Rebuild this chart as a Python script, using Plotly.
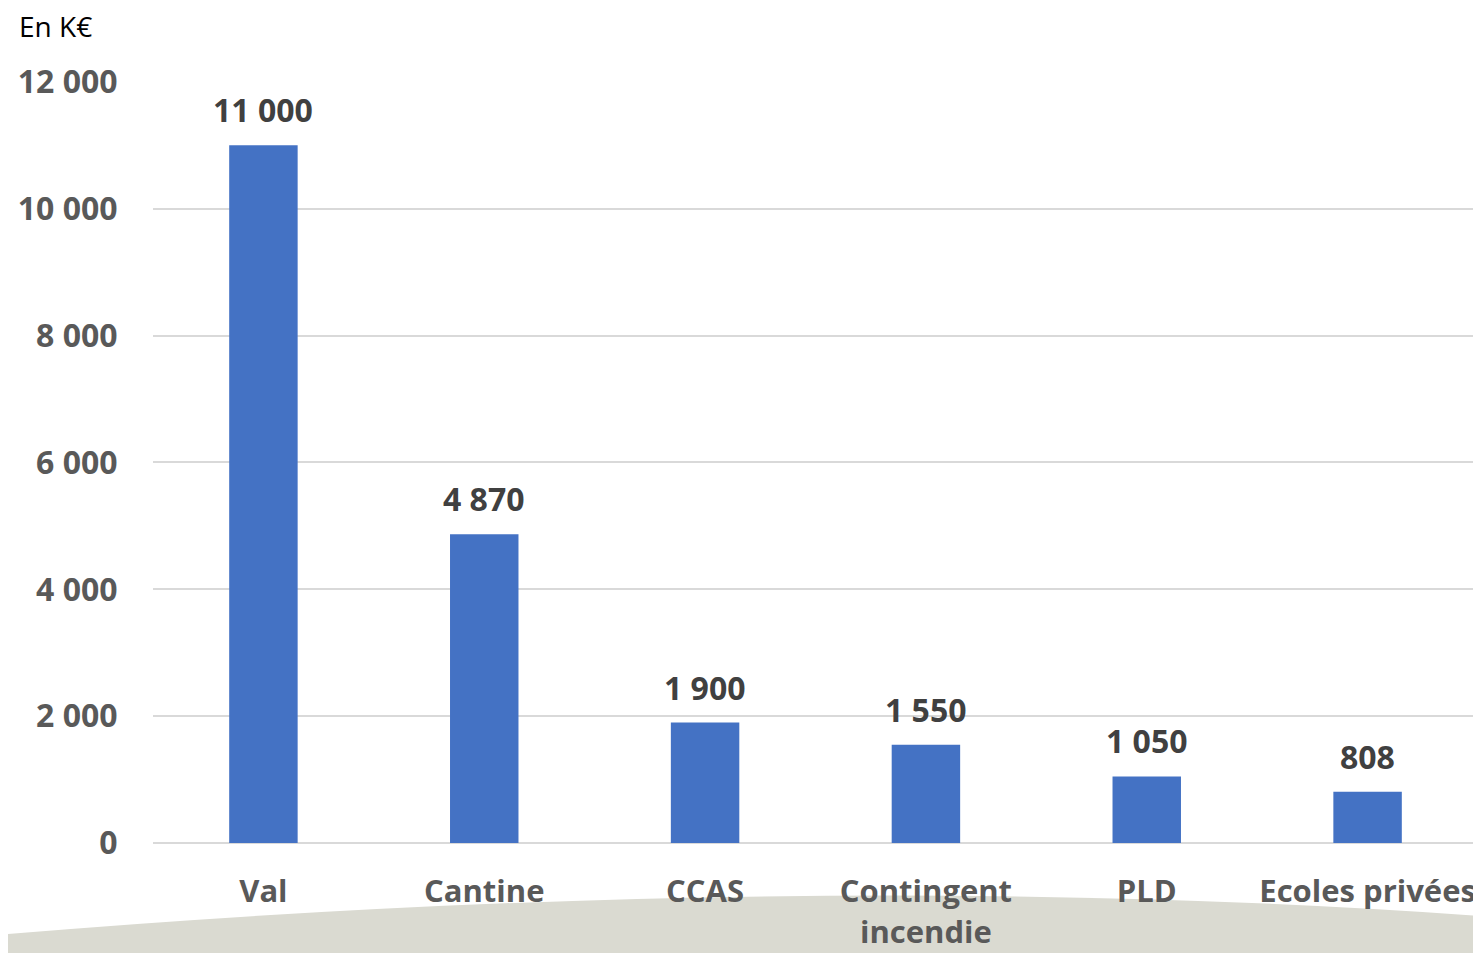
import plotly.graph_objects as go

categories = ["Val", "Cantine", "CCAS", "Contingent<br>incendie", "PLD", "Ecoles privées"]
values = [11000, 4870, 1900, 1550, 1050, 808]
y_ticks = [0, 2000, 4000, 6000, 8000, 10000, 12000]
y_ticklabels = [f"{v:,}".replace(",", " ") for v in y_ticks]
unit_label = "En K€"

FONT = "Open Sans"
BAR = "#4472C4"

fig = go.Figure()
fig.add_trace(go.Bar(
    x=categories, y=values, marker=dict(color=BAR, line=dict(width=0)),
    width=0.31, hoverinfo="skip",
))

for c, v in zip(categories, values):
    fig.add_annotation(
        x=c, y=v, text=f"<b>{v:,}</b>".replace(",", " "), showarrow=False,
        yanchor="bottom", yshift=12,
        font=dict(family=FONT, size=32, color="#404040"),
    )

fig.add_annotation(
    xref="paper", yref="paper", x=-0.103, y=1.072, xanchor="left", yanchor="middle",
    text=unit_label, showarrow=False,
    font=dict(family=FONT, size=28, color="#000000"),
)

# decorative swoosh at the bottom
fig.add_shape(
    type="path", xref="paper", yref="paper", layer="below",
    path="M -0.12 -0.121 Q 0.5 -0.03 1.02 -0.098 L 1.02 -0.2 L -0.12 -0.2 Z",
    fillcolor="#dadad1", line=dict(width=0),
)

fig.update_layout(
    width=1481, height=953,
    margin=dict(l=145, r=11, t=73, b=118),
    plot_bgcolor="white", paper_bgcolor="white",
    showlegend=False, bargap=0.69,
    font=dict(family=FONT),
    xaxis=dict(
        showgrid=False, showline=False, zeroline=False, automargin=False,
        tickfont=dict(family=FONT, size=31, color="#595959"),
        ticks="outside", ticklen=21, tickcolor="rgba(0,0,0,0)",
        tickprefix="<b>", ticksuffix="</b>",
    ),
    yaxis=dict(
        range=[0, 12015], tickvals=y_ticks, ticktext=[f"<b>{t}</b>" for t in y_ticklabels],
        showgrid=True, gridcolor="#d9d9d9", gridwidth=2, automargin=False,
        zeroline=True, zerolinecolor="#d9d9d9", zerolinewidth=2,
        showline=False,
        tickfont=dict(family=FONT, size=32, color="#595959"),
        ticks="outside", ticklen=28, tickcolor="rgba(0,0,0,0)",
    ),
)

fig.write_html("out.html")
